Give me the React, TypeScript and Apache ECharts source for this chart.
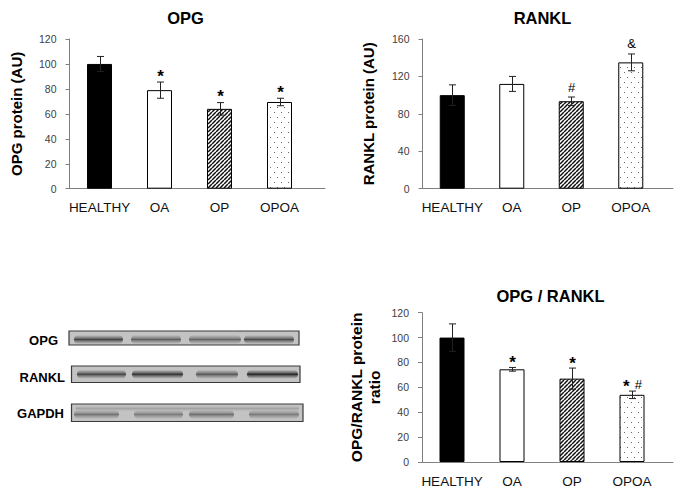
import React, { useEffect, useRef } from 'react';
import * as echarts from 'echarts';

// ---------- data ----------
const categories = ['HEALTHY', 'OA', 'OP', 'OPOA'];

const opgValues = [100, 79, 64, 69.5];
const opgErrors = [6, 6.5, 5, 3];
const opgMarks = ['', '*', '*', '*'];
const opgTicks = [0, 20, 40, 60, 80, 100, 120];

const rankValues = [100, 112, 93.5, 135];
const rankErrors = [11, 8, 4.5, 9];
const rankMarks = ['', '', '#', '&'];
const rankTicks = [0, 40, 80, 120, 160];

const ratioValues = [100, 74.5, 67, 54];
const ratioErrors = [11, 1.5, 8.5, 3];
const ratioMarks = ['', '*', '*', '* #'];
const ratioTicks = [0, 20, 40, 60, 80, 100, 120];

const blotLabels = ['OPG', 'RANKL', 'GAPDH'];
const blotIntensity = [
  [0.8, 0.62, 0.58, 0.75],
  [0.8, 0.92, 0.68, 1.0],
  [0.5, 0.45, 0.52, 0.45],
];

const FONT = '"Liberation Sans", Arial, sans-serif';

// ---------- layout (positions only) ----------
const blotLayout = [
  { box: [69, 331, 230, 14], bandY: 339.5, labelX: 58, labelY: 340.5,
    lanes: [[74, 123], [131, 181], [189, 241], [244, 294]] },
  { box: [71.5, 366, 228.5, 16.5], bandY: 374.3, labelX: 65, labelY: 377,
    lanes: [[77, 126], [132, 183], [196, 238], [247, 298]] },
  { box: [71.5, 404, 231.5, 17.5], bandY: 414.5, labelX: 64, labelY: 413,
    lanes: [[74, 119], [134, 183], [189, 234], [249, 299]] },
];

function makeHatch() {
  const c = document.createElement('canvas');
  c.width = 4; c.height = 4;
  const g = c.getContext('2d')!;
  g.fillStyle = '#fff';
  g.fillRect(0, 0, 4, 4);
  g.strokeStyle = '#111';
  g.lineWidth = 1.5;
  for (let k = -1; k <= 1; k++) {
    g.beginPath();
    g.moveTo(k * 4, 4);
    g.lineTo(k * 4 + 4, 0);
    g.stroke();
  }
  return c;
}

function makeDots() {
  const c = document.createElement('canvas');
  c.width = 7; c.height = 10;
  const g = c.getContext('2d')!;
  g.fillStyle = '#fff';
  g.fillRect(0, 0, 7, 10);
  g.fillStyle = '#666';
  g.fillRect(1, 2, 1, 1);
  g.fillRect(4, 7, 1, 1);
  return c;
}

const rich = {
  s: { fontSize: 17, fontWeight: 'bold' as const, fontFamily: FONT, color: '#111' },
  h: { fontSize: 13, fontFamily: FONT, color: '#222' },
  k: { fontSize: 13, fontFamily: FONT, color: '#222', padding: [0, 0, 4, 0] },
  g: { fontSize: 13, fontFamily: FONT, color: '#222', width: 5 },
};

function toRich(m: string) {
  const mixed = m.includes('*') && m.replace(/[* ]/g, '').length > 0;
  return m
    .split('')
    .map((ch) => (ch === '*' ? '{s|*}' : ch === ' ' ? '{g| }' : mixed ? `{k|${ch}}` : `{h|${ch}}`))
    .join('');
}

function errSeries(gi: number, values: number[], errors: number[], marks: string[], off: number) {
  return {
    type: 'custom',
    xAxisIndex: gi,
    yAxisIndex: gi,
    z: 5,
    silent: true,
    data: values.map((v, i) => [i, v, errors[i]]),
    renderItem: (params: any, api: any) => {
      const i = api.value(0);
      const v = api.value(1);
      const e = api.value(2);
      const t = api.coord([i, v + e]);
      const b = api.coord([i, v - e]);
      const x = Math.round(t[0]) + 0.5;
      const cw = 3.5;
      const style = { stroke: '#222', lineWidth: 1 };
      const children: any[] = [
        { type: 'line', shape: { x1: x, y1: t[1], x2: x, y2: b[1] }, style },
        { type: 'line', shape: { x1: x - cw, y1: t[1], x2: x + cw, y2: t[1] }, style },
        { type: 'line', shape: { x1: x - cw, y1: b[1], x2: x + cw, y2: b[1] }, style },
      ];
      const m = marks[params.dataIndex];
      if (m) {
        children.push({
          type: 'text',
          x,
          y: t[1] - off,
          style: { text: toRich(m), rich, textAlign: 'center', textVerticalAlign: 'middle' },
        });
      }
      return { type: 'group', children };
    },
  };
}

function yAxis(gi: number, ticks: number[], name: string, nameGap: number, nameSize = 15) {
  return {
    type: 'value',
    gridIndex: gi,
    min: ticks[0],
    max: ticks[ticks.length - 1],
    interval: ticks[1] - ticks[0],
    axisLine: { show: true, lineStyle: { color: '#808080', width: 1 } },
    axisTick: { show: true, length: 4, lineStyle: { color: '#808080' } },
    axisLabel: { color: '#404040', fontSize: 10.5, margin: 13, fontFamily: FONT },
    splitLine: { show: false },
    name,
    nameLocation: 'middle',
    nameGap,
    nameTextStyle: { fontSize: nameSize, fontWeight: 'bold', color: '#000', fontFamily: FONT, lineHeight: 18 },
  };
}

function xAxis(gi: number) {
  return {
    type: 'category',
    gridIndex: gi,
    data: categories,
    axisLine: { show: false },
    axisTick: { show: false },
    axisLabel: { interval: 0, color: '#111', fontSize: 13.5, margin: 12, fontFamily: FONT },
  };
}

function lineX(gi: number) {
  return {
    type: 'value', gridIndex: gi, min: 0, max: 1,
    axisLine: { show: true, lineStyle: { color: '#808080', width: 1 } },
    axisTick: { show: false }, axisLabel: { show: false }, splitLine: { show: false },
  };
}
function lineY(gi: number) {
  return { type: 'value', gridIndex: gi, show: false, min: 0, max: 1 };
}

function barSeries(gi: number, values: number[], fills: any[]) {
  return {
    type: 'bar',
    xAxisIndex: gi,
    yAxisIndex: gi,
    barWidth: 25,
    z: 3,
    silent: true,
    data: values.map((v, i) => ({
      value: v,
      itemStyle: { color: fills[i], borderColor: '#000', borderWidth: 1 },
    })),
  };
}

function band(x: number, y: number, w: number, h: number, a: number, col = '35,35,35') {
  return {
    type: 'rect',
    shape: { x, y: y - h / 2, width: w, height: h, r: h / 2 },
    style: {
      fill: new echarts.graphic.LinearGradient(0, 0, 0, 1, [
        { offset: 0, color: `rgba(${col},0)` },
        { offset: 0.35, color: `rgba(${col},${a * 0.6})` },
        { offset: 0.5, color: `rgba(${col},${a})` },
        { offset: 0.65, color: `rgba(${col},${a * 0.6})` },
        { offset: 1, color: `rgba(${col},0)` },
      ]),
    },
  };
}

function blotGraphics() {
  const els: any[] = [];
  blotLayout.forEach((row, r) => {
    const [bx, by, bw, bh] = row.box;
    els.push({
      type: 'text',
      x: row.labelX,
      y: row.labelY,
      style: { text: blotLabels[r], font: `bold 13px ${FONT}`, fill: '#000', textAlign: 'right', textVerticalAlign: 'middle' },
    });
    els.push({
      type: 'rect',
      shape: { x: bx, y: by, width: bw, height: bh },
      style: { fill: '#c3c3c3', stroke: '#3a3a3a', lineWidth: 1.2 },
    });
    if (r === 2) {
      els.push(band(bx + 4, by + 4.5, bw - 8, 6, 0.25, '70,70,70'));
    }
    row.lanes.forEach((ln, l) => {
      const a = blotIntensity[r][l];
      els.push(band(ln[0], row.bandY, ln[1] - ln[0], 9, a));
    });
  });
  return els;
}

function titles() {
  const t = (text: string, x: number, y: number) => ({
    type: 'text', x, y,
    style: { text, font: `bold 16.5px ${FONT}`, fill: '#000', textAlign: 'center', textVerticalAlign: 'middle' },
  });
  return [t('OPG', 185.5, 17.5), t('RANKL', 542.5, 17.5), t('OPG / RANKL', 550.5, 296)];
}

export default function App() {
  const ref = useRef<HTMLDivElement>(null);
  useEffect(() => {
    document.body.style.margin = '0';
    const chart = echarts.init(ref.current!, null, { renderer: 'svg' });
    const hatch = { image: makeHatch(), repeat: 'repeat', imageWidth: 4, imageHeight: 4 };
    const dots = { image: makeDots(), repeat: 'repeat', imageWidth: 7, imageHeight: 10 };
    const fills = ['#000', '#fff', hatch, dots];
    chart.setOption({
      animation: false,
      backgroundColor: '#fff',
      grid: [
        { left: 69.5, top: 39, width: 240, height: 149.7 },
        { left: 422.5, top: 39, width: 238, height: 149.7 },
        { left: 422, top: 312.7, width: 240, height: 149.3 },
        { left: 69, top: 39, width: 256, height: 149.7 },
        { left: 422.5, top: 39, width: 250.5, height: 149.7 },
        { left: 422, top: 312.7, width: 251, height: 149.3 },
      ],
      xAxis: [xAxis(0), xAxis(1), xAxis(2), lineX(3), lineX(4), lineX(5)],
      yAxis: [
        yAxis(0, opgTicks, 'OPG protein (AU)', 44),
        yAxis(1, rankTicks, 'RANKL protein (AU)', 45),
        yAxis(2, ratioTicks, 'OPG/RANKL protein\nratio', 39, 15.5),
        lineY(3), lineY(4), lineY(5),
      ],
      series: [
        barSeries(0, opgValues, fills),
        barSeries(1, rankValues, fills),
        barSeries(2, ratioValues, fills),
        errSeries(0, opgValues, opgErrors, opgMarks, 6),
        errSeries(1, rankValues, rankErrors, rankMarks, 10),
        errSeries(2, ratioValues, ratioErrors, ratioMarks, 5),
      ],
      graphic: { elements: [...titles(), ...blotGraphics()] },
    });
    return () => chart.dispose();
  }, []);
  return <div ref={ref} style={{ width: 685, height: 492, background: '#fff' }} />;
}
